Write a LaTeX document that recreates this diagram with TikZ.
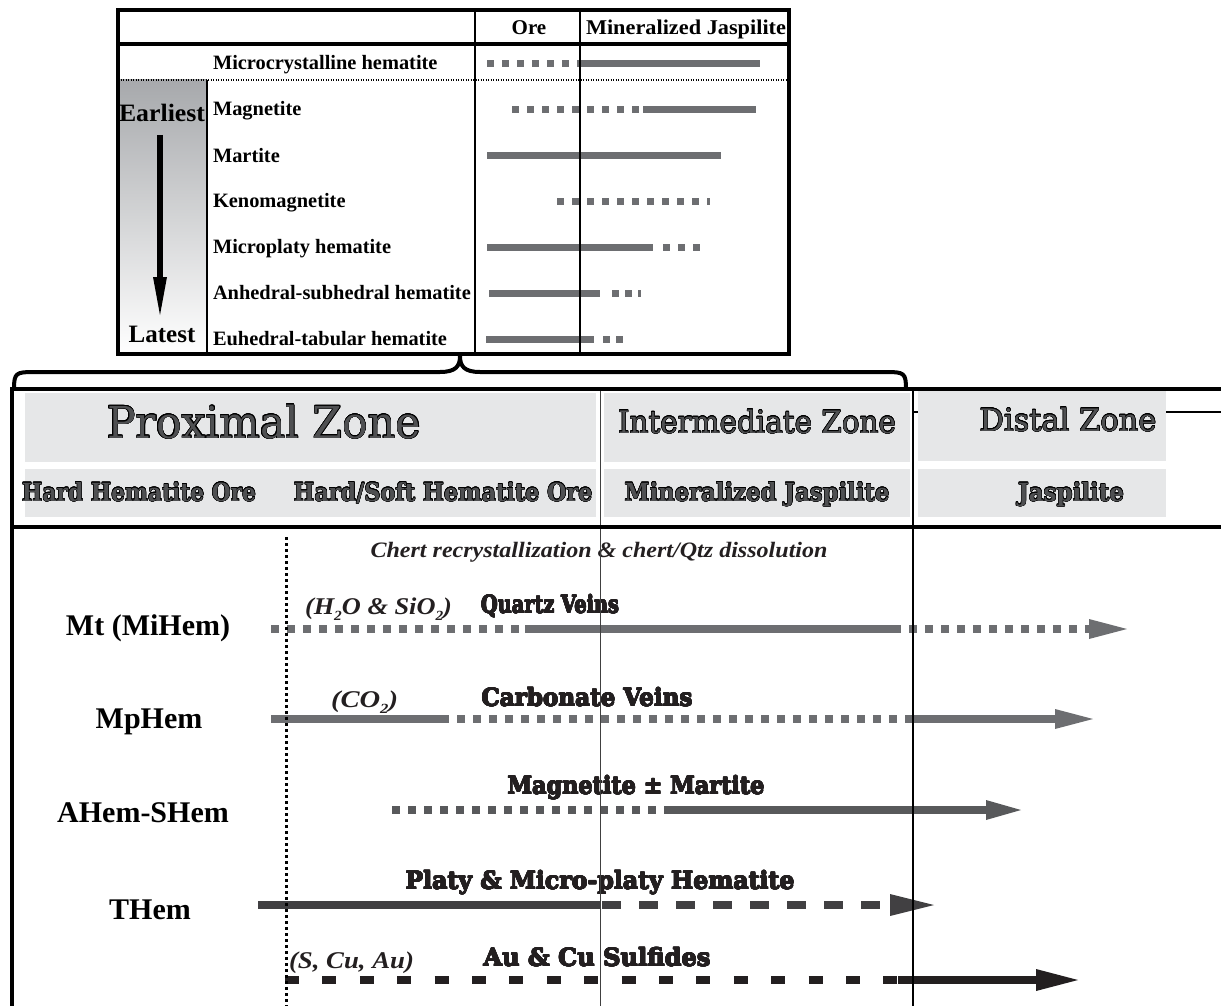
\documentclass[tikz,border=0pt]{standalone}
\usepackage{fontspec}
\setmainfont{Liberation Serif}
\newfontfamily\slabfont{DejaVu Serif}
\usepackage{graphicx}
\usepackage{contour}
\contourlength{0.45pt}
\contournumber{16}

% scale a text horizontally to a given width, keeping its height
\newcommand{\fitw}[2]{\resizebox{#1}{\height}{#2}}
% lowered small index for chemical formulae
\newcommand{\chemidx}[1]{\raisebox{-0.28em}{\fontsize{14}{14}\selectfont #1}}
% heavier slab lettering for the vein labels
\newcommand{\heavy}[1]{{\contourlength{0.4pt}\contour{barD}{#1}}}

\definecolor{barA}{HTML}{6D6E71}
\definecolor{barB}{HTML}{58595B}
\definecolor{barC}{HTML}{414042}
\definecolor{barD}{HTML}{231F20}
\definecolor{zonefill}{HTML}{E6E7E8}
\definecolor{headgray}{HTML}{4F5052}
\definecolor{coltop}{HTML}{A7A9AC}

\begin{document}
\begin{tikzpicture}[x=1pt,y=-1pt,
  every node/.style={inner sep=0pt, outer sep=0pt},
  tlabel/.style={anchor=base west, font=\bfseries\fontsize{20.4}{24}\selectfont},
  thead/.style={anchor=base, font=\bfseries\fontsize{21}{24}\selectfont},
  endlabel/.style={anchor=base, font=\bfseries\fontsize{25}{28}\selectfont},
  rowlab/.style={anchor=base, font=\bfseries\fontsize{30}{34}\selectfont},
  zonebig/.style={anchor=base, text=headgray, font=\slabfont\fontsize{44}{48}\selectfont},
  zonemid/.style={anchor=base, text=headgray, font=\slabfont\fontsize{31}{36}\selectfont},
  zonesub/.style={anchor=base, text=headgray, font=\slabfont\bfseries\fontsize{25}{30}\selectfont},
  vein/.style={anchor=base, text=barD, font=\slabfont\bfseries\fontsize{24}{28}\selectfont},
  fluid/.style={anchor=base west, text=barD, font=\bfseries\itshape\fontsize{24}{28}\selectfont},
  note/.style={anchor=base, text=barD, font=\bfseries\itshape\fontsize{22}{26}\selectfont},
  tb/.style={line width=7pt, draw=barA},
  sqd/.style={dash pattern=on 7pt off 8pt},
  sqs/.style={dash pattern=on 7pt off 6pt},
  mb/.style={line width=8pt},
  sq/.style={dash pattern=on 8pt off 8pt},
  longdash/.style={dash pattern=on 19pt off 18pt},
  gapdash/.style={dash pattern=on 14pt off 23.4pt},
  zbox/.style={fill=zonefill, draw=none},
  frame/.style={line width=3.5pt, draw=black},
]
\useasboundingbox (0,0) rectangle (1221,1006);

% ---------- paragenetic table ----------
\shade[top color=coltop, bottom color=white] (118,80) rectangle (207,354);

\draw[tb,sqd] (487,64) -- (578,64);
\draw[tb] (578,64) -- (760,64);
\draw[tb,sqd] (512,110) -- (643,110);
\draw[tb] (643,110) -- (756,110);
\draw[tb] (487,156) -- (721,156);
\draw[tb,sqd] (557,201) -- (710,201);
\draw[tb] (487,247) -- (653,247);
\draw[tb,sqd] (663,247) -- (700,247);
\draw[tb] (489,293) -- (600,293);
\draw[tb,sqs] (612,293) -- (641,293);
\draw[tb] (486,339) -- (594,339);
\draw[tb,sqs] (603,339) -- (624,339);

\draw[line width=1.2pt, dash pattern=on 1.2pt off 1.3pt] (118,80) -- (789,80);
\draw[line width=1.3pt] (207,80) -- (207,354);
\draw[line width=1.5pt] (475,10) -- (475,354);
\draw[line width=1.5pt] (580,10) -- (580,354);
\draw[frame] (118,44) -- (789,44);
\draw[frame] (118,10) rectangle (789,354);

\node[thead] (ore) at (529,35) {Ore};
\node[thead] (mj) at (686,35) {\fitw{200pt}{Mineralized Jaspilite}};

\node[tlabel] (l1) at (213,70) {Microcrystalline hematite};
\node[tlabel] (l2) at (213,116) {Magnetite};
\node[tlabel] (l3) at (213,162) {Martite};
\node[tlabel] (l4) at (213,207) {Kenomagnetite};
\node[tlabel] (l5) at (213,253) {Microplaty hematite};
\node[tlabel] (l6) at (213,299) {Anhedral-subhedral hematite};
\node[tlabel] (l7) at (213,345) {Euhedral-tabular hematite};

\node[endlabel] (early) at (162,122) {\fitw{86pt}{Earliest}};
\node[endlabel] (late) at (162,342) {Latest};
\coordinate (arrtop) at (160,135);
\coordinate (arrneck) at (160,280);
\coordinate (arrtip) at (160,315);
\draw[line width=5.5pt] (arrtop) -- (arrneck);
\fill (153,277) -- (arrtip) -- (167,277) -- cycle;

% ---------- brace ----------
\draw[line width=4pt] (14,389) .. controls (14,373) and (16,372) .. (34,372)
  -- (440,372) .. controls (456,372) and (460,366) .. (460,356)
  .. controls (460,366) and (464,372) .. (480,372)
  -- (886,372) .. controls (904,372) and (906,373) .. (906,389);

% ---------- zone header ----------
\draw[line width=1.3pt] (913,412) -- (1221,412);
\fill[zbox] (25,393) rectangle (596,462);
\fill[zbox] (25,469) rectangle (596,517);
\fill[zbox] (604,393) rectangle (910,462);
\fill[zbox] (604,469) rectangle (910,517);
\fill[zbox] (918,391) rectangle (1166,461);
\fill[zbox] (918,469) rectangle (1166,517);

\node[zonebig] (prox) at (264,438) {\fitw{314pt}{\contour{black}{Proximal Zone}}};
\node[zonemid] (inter) at (757,433) {\fitw{278pt}{\contour{black}{Intermediate Zone}}};
\node[zonemid] (dist) at (1068,431) {\fitw{177pt}{\contour{black}{Distal Zone}}};
\node[zonesub] (hho) at (139,501) {\fitw{234pt}{\contour{black}{Hard Hematite Ore}}};
\node[zonesub] (hsho) at (443,501) {\fitw{299pt}{\contour{black}{Hard/Soft Hematite Ore}}};
\node[zonesub] (mjz) at (757,501) {\fitw{265pt}{\contour{black}{Mineralized Jaspilite}}};
\node[zonesub] (jz) at (1071,501) {\fitw{106pt}{\contour{black}{Jaspilite}}};

% ---------- evolution rows ----------
\node[note] (chert) at (599,557) {\fitw{457pt}{Chert recrystallization \& chert/Qtz dissolution}};

\node[rowlab] (r1) at (148,635) {Mt (MiHem)};
\node[rowlab] (r2) at (149,728) {MpHem};
\node[rowlab] (r3) at (143,822) {AHem-SHem};
\node[rowlab] (r4) at (150,919) {THem};

% quartz veins
\draw[mb,barA,sq] (271,629) -- (525,629);
\draw[mb,barA] (525,629) -- (893,629);
\draw[mb,barA,sq] (893,629) -- (1089,629);
\fill[barA] (1089,619) -- (1127,629) -- (1089,639) -- cycle;
\node[fluid] (f1) at (305,614) {\fitw{147pt}{(H\chemidx{2}O \& SiO\chemidx{2})}};
\node[vein] (v1) at (550,613) {\fitw{138pt}{\heavy{Quartz Veins}}};

% carbonate veins
\draw[mb,barA] (271,719) -- (441,719);
\draw[mb,barA,sq] (441,719) -- (912,719);
\draw[mb,barA] (912,719) -- (1055,719);
\fill[barA] (1055,709) -- (1093,719) -- (1055,729) -- cycle;
\node[fluid] (f2) at (331,707) {\fitw{67pt}{(CO\chemidx{2})}};
\node[vein] (v2) at (587,706) {\fitw{211pt}{\heavy{Carbonate Veins}}};

% magnetite +- martite
\draw[mb,barB,sq] (392,810) -- (668,810);
\draw[mb,barB] (668,810) -- (986,810);
\fill[barB] (986,800) -- (1021,810) -- (986,820) -- cycle;
\node[vein] (v3) at (636,794) {\fitw{257pt}{\heavy{Magnetite ± Martite}}};

% platy hematite
\draw[mb,barC] (258,905) -- (600,905);
\draw[mb,barC,longdash] (602,905) -- (884,905);
\fill[barC] (890,894) -- (934,905) -- (890,916) -- cycle;
\node[vein] (v4) at (600,889) {\fitw{389pt}{\heavy{Platy \& Micro-platy Hematite}}};

% sulfides
\draw[mb,barD,gapdash] (285,980) -- (898,980);
\draw[mb,barD] (898,980) -- (1040,980);
\fill[barD] (1036,969) -- (1078,980) -- (1036,991) -- cycle;
\node[fluid] (f5) at (289,968) {\fitw{125pt}{(S, Cu, Au)}};
\node[vein] (v5) at (597,966) {\fitw{227pt}{\heavy{Au \& Cu Sulfides}}};

% ---------- frame and zone dividers ----------
\draw[line width=1pt, draw=black!75] (600,389) -- (600,1006);
\draw[line width=1.5pt] (913,389) -- (913,1006);
\draw[line width=3pt, dash pattern=on 3pt off 3pt] (286,537) -- (286,1006);
\draw[frame] (1221,389) -- (12,389) -- (12,1006);
\draw[frame] (12,527) -- (1221,527);
\end{tikzpicture}
\end{document}
